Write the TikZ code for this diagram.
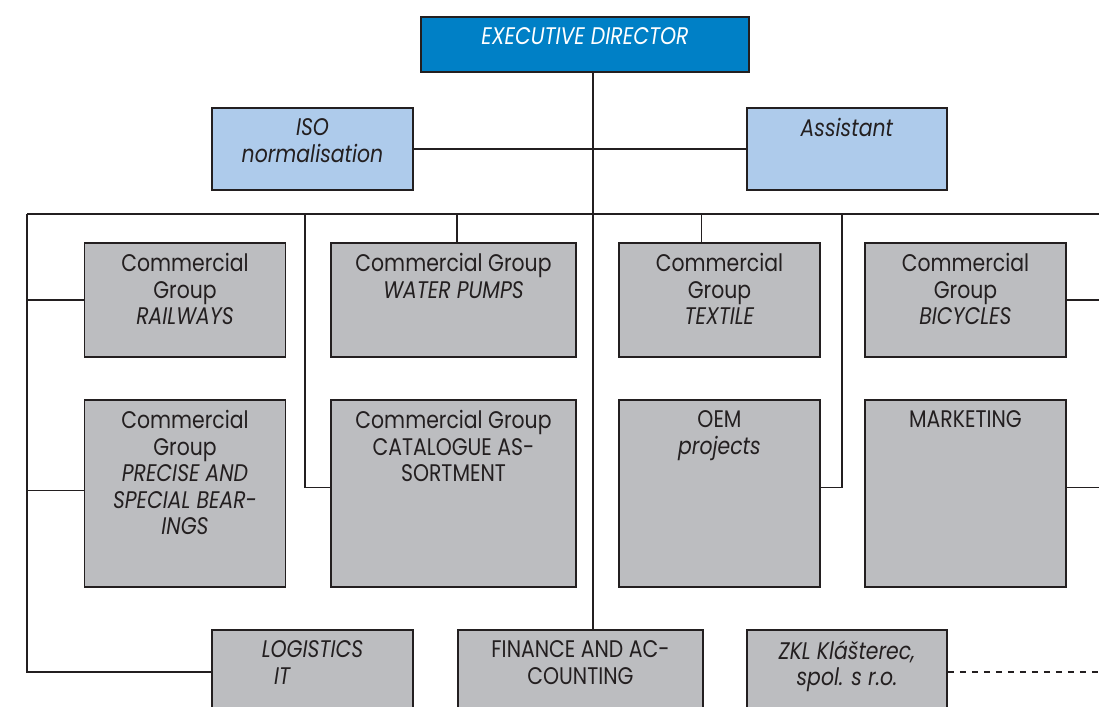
\documentclass[tikz,border=0pt]{standalone}
\usepackage{fontspec}
\setmainfont{Poppins}[FakeStretch=0.85]
\definecolor{dirblue}{HTML}{0080C6}
\definecolor{isoblue}{HTML}{AECBEB}
\definecolor{unitgrey}{HTML}{BCBDC0}
\definecolor{rule}{HTML}{231F20}

\begin{document}
\begin{tikzpicture}[x=0.5pt, y=-0.5pt,
  unit/.style={draw=rule, line width=0.8pt, fill=unitgrey, inner sep=0pt},
  head/.style={anchor=north, align=center, inner sep=5.5pt, text=rule, font=\fontsize{12}{13.25}\selectfont},
  wire/.style={draw=rule, line width=0.6pt}]
\clip (0,0) rectangle (1099,707);
\node[unit, fill=dirblue, minimum width=164pt, minimum height=27.5pt, label={[head, text=white]north:\textit{EXECUTIVE DIRECTOR}}] (exec) at (585,44.5) {};
\node[unit, fill=isoblue, minimum width=100.5pt, minimum height=41pt, label={[head]north:\textit{ISO}\\\textit{normalisation}}] (iso) at (312.5,149) {};
\node[unit, fill=isoblue, minimum width=100pt, minimum height=41pt, label={[head]north:\textit{Assistant}}] (asst) at (847,149) {};
\foreach \nm/\cx/\cy/\bw/\bh/\txt in {
  rail/185/300/100.5/57/{Commercial\\Group\\\textit{RAILWAYS}},
  pump/453.5/300/122.5/57/{Commercial Group\\\textit{WATER PUMPS}},
  tex/719.5/300/100.5/57/{Commercial\\Group\\\textit{TEXTILE}},
  bike/965.5/300/100.5/57/{Commercial\\Group\\\textit{BICYCLES}},
  prec/185/493.5/100.5/93.5/{Commercial\\Group\\\textit{PRECISE AND}\\\textit{SPECIAL BEAR-}\\\textit{INGS}},
  cat/453.5/493.5/122.5/93.5/{Commercial Group\\CATALOGUE AS-\\SORTMENT},
  oem/719.5/493.5/100.5/93.5/{OEM\\\textit{projects}},
  mark/965.5/493.5/100.5/93.5/{MARKETING},
  log/312.5/672/100.5/42/{\textit{LOGISTICS}\\\textit{IT}\hspace*{30pt}},
  fin/580.5/672/122.5/42/{FINANCE AND AC-\\COUNTING},
  zkl/847/672/100/42/{\textit{ZKL Klášterec,}\\\textit{spol. s r.o.}}}
  \node[unit, minimum width=\bw pt, minimum height=\bh pt, label={[head]north:\txt}] (\nm) at (\cx,\cy) {};
\coordinate (busL) at (27,214);
\coordinate (busR) at (1099,214);
\coordinate (trunk) at (593,214);
\coordinate (catL) at (305,214);
\coordinate (oemR) at (842,214);
\draw[wire] (exec.south -| trunk) -- (fin.north -| trunk);
\draw[wire] (iso) -- (asst);
\draw[wire] (busL) -- (busR);
\draw[wire] (busL) |- (log.west);
\draw[wire] (rail.west) -- (rail.west -| busL);
\draw[wire] ([yshift=1.5pt]prec.west) -- ([yshift=1.5pt]prec.west -| busL);
\draw[wire] ([yshift=3pt]cat.west) -| (catL);
\draw[wire] ([xshift=1.75pt]pump.north) -- ([xshift=1.75pt]pump.north |- busL);
\draw[wire] ([xshift=-9pt]tex.north) -- ([xshift=-9pt]tex.north |- busL);
\draw[wire] ([yshift=3pt]oem.east) -| (oemR);
\draw[wire] (bike.east) -- (bike.east -| busR);
\draw[wire] ([yshift=3pt]mark.east) -- ([yshift=3pt]mark.east -| busR);
\draw[wire, dashed] (zkl.east) -- (zkl.east -| busR);
\end{tikzpicture}
\end{document}
